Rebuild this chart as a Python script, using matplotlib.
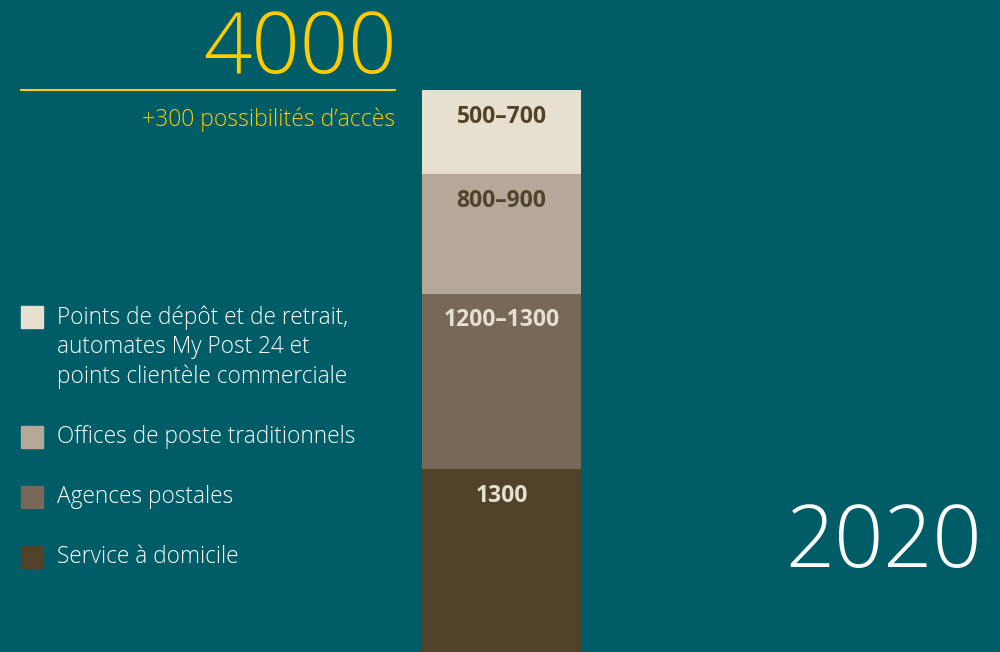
import matplotlib.pyplot as plt

# données
categories = ["Service à domicile", "Agences postales",
              "Offices de poste traditionnels",
              "Points de dépôt et de retrait,\nautomates My Post 24 et\npoints clientèle commerciale"]
values = [1300, 1250, 850, 600]
value_labels = ["1300", "1200–1300", "800–900", "500–700"]
total_label = "4000"
sub_label = "+300 possibilités d’accès"
year_label = "2020"

bg = "#005C66"
yellow = "#FFCC00"
seg_colors = ["#51432A", "#786858", "#B5A898", "#E8E0CF"]
label_colors = ["#E8E0CF", "#E8E0CF", "#51432A", "#51432A"]

W, H = 1000, 652
plt.rcParams['font.family'] = ['Open Sans', 'DejaVu Sans']

fig = plt.figure(figsize=(10, 6.52), dpi=100, facecolor=bg)

def fx(x):
    return x / W

def fy(y):
    return 1 - y / H

# barre empilée
ax = fig.add_axes([fx(422), 0, fx(581) - fx(422), fy(90)])
ax.set_facecolor(bg)
bottom = 0
for v, c, lab, tc in zip(values, seg_colors, value_labels, label_colors):
    ax.bar(0, v, width=1, bottom=bottom, color=c, linewidth=0)
    ax.text(0, bottom + v - 190, lab, ha='center', va='center', color=tc,
            fontsize=16.5, fontweight='bold')
    bottom += v
ax.set_xlim(-0.5, 0.5)
ax.set_ylim(0, sum(values))
ax.axis('off')

# titre
fig.text(fx(397), fy(73), total_label, ha='right', va='baseline', color=yellow,
         fontsize=61, fontweight='light')
fig.add_artist(plt.Line2D([fx(21), fx(395)], [fy(90), fy(90)], color=yellow, lw=1.5))
fig.text(fx(395), fy(120), sub_label, ha='right', va='center', color=yellow,
         fontsize=16.5, fontweight='light')

# légende
leg_y = [317, 437, 497, 557]
for cat, c, y in zip(categories[::-1], seg_colors[::-1], leg_y):
    fig.add_artist(plt.Rectangle((fx(21), fy(y + 11)), fx(22), 22 / H,
                                 color=c, transform=fig.transFigure))
    n = cat.count('\n')
    fig.text(fx(57), fy(y + 15 * n), cat, ha='left', va='center',
             color='white', fontsize=16.3, fontweight='light',
             linespacing=1.28, transform=fig.transFigure)

fig.text(fx(982), fy(567), year_label, ha='right', va='baseline', color='white',
         fontsize=62, fontweight='light')

fig.savefig("out.png", dpi=100, facecolor=bg)
